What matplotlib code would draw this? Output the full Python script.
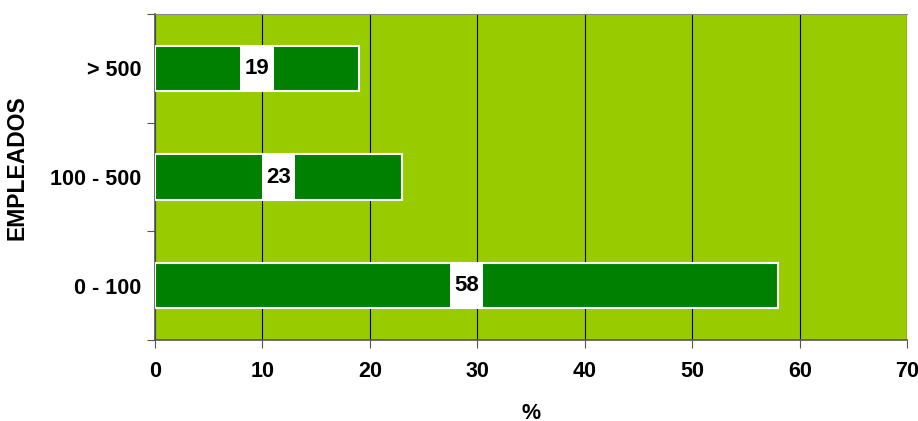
import matplotlib.pyplot as plt

categories = ["0 - 100", "100 - 500", "> 500"]
values = [58, 23, 19]
x_ticks = [0, 10, 20, 30, 40, 50, 60, 70]

plt.rcParams['font.family'] = ['Liberation Sans', 'DejaVu Sans']
plt.rcParams['font.weight'] = 'bold'

fig = plt.figure(figsize=(9.18, 4.21), dpi=100)
ax = fig.add_axes([0.1688, 0.1924, 0.8195, 0.7743])
ax.set_facecolor('#99CC00')

pos = list(range(len(categories)))
ax.barh(pos, values, height=0.42, color='#008000', edgecolor='white', linewidth=1.5, zorder=3)

# value labels in white boxes at the middle of each bar
box_w = 3.1
for p, v in zip(pos, values):
    ax.barh(p, box_w, left=v / 2 - box_w / 2, height=0.40, color='white', zorder=4)
    ax.text(v / 2, p, str(v), ha='center', va='center', fontsize=16, fontweight='bold', zorder=5)

ax.set_xlim(0, 70)
ax.set_ylim(-0.5, len(categories) - 0.5)
ax.set_xticks(x_ticks)
ax.set_xticklabels([str(t) for t in x_ticks], fontsize=15.5, fontweight='bold')
ax.xaxis.grid(True, color='black', linewidth=0.8, zorder=1)
ax.set_axisbelow(True)

# category boundaries as major ticks, category names on minor ticks
ax.set_yticks([p - 0.5 for p in pos] + [pos[-1] + 0.5])
ax.set_yticklabels([])
ax.set_yticks(pos, minor=True)
ax.set_yticklabels(categories, minor=True, fontsize=15.5, fontweight='bold')
ax.tick_params(axis='y', which='minor', length=0, pad=10)
ax.tick_params(axis='y', which='major', length=6, color='#555555', direction='out')
ax.tick_params(axis='x', length=6, color='#555555', direction='out', pad=9)

for s in ['left', 'bottom']:
    ax.spines[s].set_color('#555555')
    ax.spines[s].set_linewidth(1.2)
ax.spines['top'].set_color('#888888')
ax.spines['right'].set_visible(False)

ax.set_xlabel('%', fontsize=15.5, fontweight='bold', labelpad=15)
ax.set_ylabel('EMPLEADOS', fontsize=16.5, fontweight='bold')
ax.yaxis.set_label_coords(-0.168, 0.528)

fig.savefig('out.png', dpi=100)
